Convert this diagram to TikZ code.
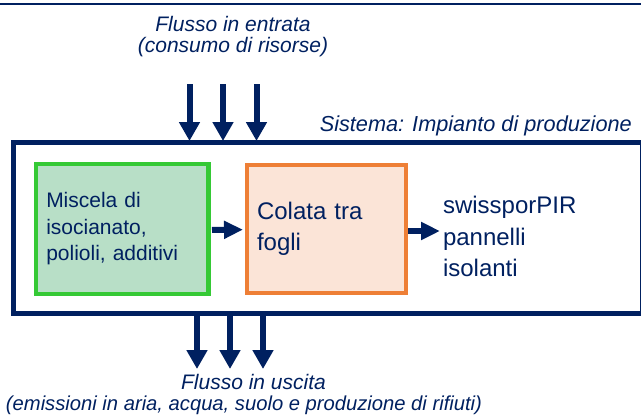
\documentclass[tikz,border=0pt]{standalone}
\usepackage{fontspec}
\setmainfont{Liberation Sans}
\usetikzlibrary{arrows.meta}
\definecolor{navy}{HTML}{002060}
\definecolor{gstroke}{HTML}{35C935}
\definecolor{gfill}{HTML}{B8DFC7}
\definecolor{ostroke}{HTML}{EE7F36}
\definecolor{ofill}{HTML}{FBE4D7}
\begin{document}
\begin{tikzpicture}[x=1pt,y=-1pt,
  flow/.style={navy, line width=6pt, -{Triangle[length=19pt,width=20pt]}},
  link/.style={navy, line width=6pt, -{Triangle[length=19pt,width=17pt]}},
  lbl/.style={text=navy, font=\fontsize{21}{21}\selectfont\itshape, inner sep=0pt, align=center},
  box/.style={inner sep=0pt, outer sep=0pt, align=left, text=navy},
]
\useasboundingbox (0,0) rectangle (641,418);
\draw[navy, line width=1.6pt] (0,4) -- (641,4);

\node[box, draw=navy, line width=4.6pt, minimum width=629.2pt, minimum height=171pt] (sys) at (327.9,228.1) {};

\node[box, draw=gstroke, fill=gfill, line width=4.2pt, minimum width=172.3pt, minimum height=129.8pt,
  inner xsep=10pt, text width=152pt, font=\fontsize{21}{26.5}\selectfont] (green) at (122.25,229)
  {Miscela di\\isocianato,\\polioli, additivi};

\node[box, draw=ostroke, fill=ofill, line width=4pt, minimum width=159pt, minimum height=127.8pt,
  inner xsep=10pt, text width=139pt, font=\fontsize{24}{30.5}\selectfont] (orange) at (326.5,228.6)
  {Colata tra\\fogli};

\node[box, anchor=west, inner xsep=3pt, font=\fontsize{24}{31.5}\selectfont] (prod) at (440,236.8)
  {swissporPIR\\pannelli\\isolanti};

\draw[link, shorten <=3.6pt, shorten >=4pt] ([yshift=-1pt]green.east) -- ([yshift=-1pt]orange.west);
\draw[link, shorten <=2pt] ([yshift=-2.4pt]orange.east) -- ([yshift=-2.4pt]orange.east -| prod.west);

\coordinate (t1) at (189.5,84);
\coordinate (t2) at (223,84);
\coordinate (t3) at (256.5,84);
\foreach \t in {t1,t2,t3}
  \draw[flow, shorten >=1.6pt] (\t) -- (\t |- sys.north);

\coordinate (b1) at (197,369);
\coordinate (b2) at (230,369);
\coordinate (b3) at (263,369);
\foreach \b in {b1,b2,b3}
  \draw[flow] (\b |- sys.south) -- (\b);

\node[lbl] (inlbl) at (233,36.8) {Flusso in entrata\\(consumo di risorse)};
\node[lbl] (outlbl) at (244,394.9) {\hspace*{19pt}Flusso in uscita\\{\fontsize{20.2}{21}\selectfont(emissioni in aria, acqua, suolo e produzione di rifiuti)}};
\node[lbl, anchor=base east, font=\fontsize{21.7}{21}\selectfont\itshape] (syslbl) at (632,131.7) {Sistema: Impianto di produzione};
\end{tikzpicture}
\end{document}
